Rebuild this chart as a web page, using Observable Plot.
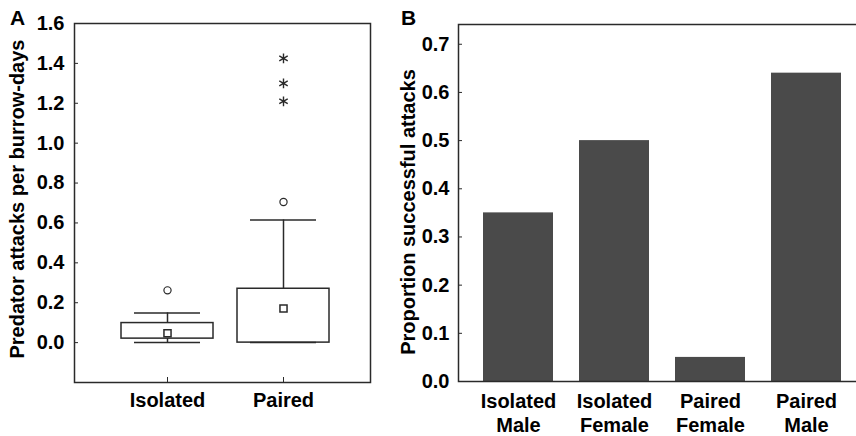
<!DOCTYPE html>
<html>
<head>
<meta charset="utf-8">
<script src="https://cdn.jsdelivr.net/npm/d3@7"></script>
<script src="https://cdn.jsdelivr.net/npm/@observablehq/plot@0.6"></script>
<style>
  html, body { margin: 0; padding: 0; background: #fff; overflow: hidden; }
  #wrap { position: relative; width: 856px; height: 436px; overflow: hidden; font-family: "Liberation Sans", Arial, sans-serif; }
  .panel { position: absolute; top: 0; }
  .panel svg { max-width: none !important; }
  .letter { position: absolute; font-weight: bold; font-size: 21px; line-height: 1; color: #000; z-index: 2; }
</style>
</head>
<body>
<div id="wrap">
  <div id="pa" class="panel" style="left:0px;width:395px"></div>
  <div id="pb" class="panel" style="left:390px;width:480px"></div>
  <div class="letter" style="left:10px;top:7px">A</div>
  <div class="letter" style="left:401px;top:7px">B</div>
</div>
<script>
// ---- Panel A: box plot data ----
const groupsA = ["Isolated", "Paired"];
const q1 = [0.02, 0.0];
const q3 = [0.098, 0.27];
const whiskerLo = [0.0, 0.0];
const whiskerHi = [0.149, 0.615];
const means = [0.047, 0.171];
const outlierGroup = ["Isolated", "Paired"];
const outlierValue = [0.262, 0.705];
const extremeGroup = ["Paired", "Paired", "Paired"];
const extremeValue = [1.425, 1.30, 1.21];
const yTicksA = [0, 0.2, 0.4, 0.6, 0.8, 1.0, 1.2, 1.4, 1.6];
const yTitleA = "Predator attacks per burrow-days";

// ---- Panel B: bar data ----
const categoriesB = ["Isolated\nMale", "Isolated\nFemale", "Paired\nFemale", "Paired\nMale"];
const proportions = [0.35, 0.50, 0.05, 0.64];
const yTicksB = [0, 0.1, 0.2, 0.3, 0.4, 0.5, 0.6, 0.7];
const yTitleB = "Proportion successful attacks";

const font = "'Liberation Sans', Arial, sans-serif";
const ink = "#2a2a2a";

const boxes = groupsA.map((g, i) => ({g, q1: q1[i], q3: q3[i], lo: whiskerLo[i], hi: whiskerHi[i], mean: means[i]}));
const outliers = outlierGroup.map((g, i) => ({g, v: outlierValue[i]}));
const extremes = extremeGroup.map((g, i) => ({g, v: extremeValue[i]}));

const chartA = Plot.plot({
  width: 395, height: 436,
  marginLeft: 74, marginRight: 25, marginTop: 23, marginBottom: 54,
  style: {fontFamily: font, fontSize: "20px", fontWeight: "bold", color: "#000", background: "transparent", maxWidth: "none"},
  x: {domain: groupsA, paddingInner: 0.21, paddingOuter: 0.3755, align: 0.53, label: null},
  y: {domain: [-0.2, 1.6], label: null},
  marks: [
    Plot.ruleX(boxes, {x: "g", y1: "q3", y2: "hi", stroke: ink, strokeWidth: 1.5}),
    Plot.ruleX(boxes, {x: "g", y1: "lo", y2: "q1", stroke: ink, strokeWidth: 1.5}),
    Plot.tickY(boxes, {x: "g", y: "hi", stroke: ink, strokeWidth: 1.5, insetLeft: 13, insetRight: 13}),
    Plot.tickY(boxes, {x: "g", y: "lo", stroke: ink, strokeWidth: 1.5, insetLeft: 13, insetRight: 13}),
    Plot.barY(boxes, {x: "g", y1: "q1", y2: "q3", fill: "none", stroke: ink, strokeWidth: 1.5}),
    Plot.dot(boxes, {x: "g", y: "mean", symbol: "square", r: 4, fill: "white", stroke: ink, strokeWidth: 1.5}),
    Plot.dot(outliers, {x: "g", y: "v", symbol: "circle", r: 3.6, fill: "white", stroke: ink, strokeWidth: 1.2}),
    Plot.dot(extremes, {x: "g", y: "v", symbol: "asterisk", r: 4.6, stroke: ink, strokeWidth: 1.4}),
    Plot.axisY({ticks: yTicksA, tickFormat: d3.format(".1f"), tickSize: -4, tickPadding: 14, stroke: ink, label: null, fontWeight: "bold"}),
    Plot.axisX({tickSize: -5, tickPadding: 15, stroke: ink, label: null, fontWeight: "bold"}),
    Plot.text([yTitleA], {text: d => d, frameAnchor: "left", textAnchor: "middle", rotate: -90, dx: -57, dy: -4, fontSize: 20, fontWeight: "bold", fill: "#000"}),
    Plot.frame({stroke: ink, strokeWidth: 1.5})
  ]
});
document.getElementById("pa").appendChild(chartA);

const barsB = categoriesB.map((c, i) => ({c, v: proportions[i]}));

const chartB = Plot.plot({
  width: 480, height: 436,
  marginLeft: 68, marginRight: 3, marginTop: 24, marginBottom: 55,
  style: {fontFamily: font, fontSize: "20px", fontWeight: "bold", color: "#000", background: "transparent", maxWidth: "none"},
  x: {domain: categoriesB, paddingInner: 0.267, paddingOuter: 0.2445, label: null},
  y: {domain: [0, 0.741], label: null},
  marks: [
    Plot.barY(barsB, {x: "c", y: "v", fill: "#4a4a4a"}),
    Plot.axisY({ticks: yTicksB, tickFormat: d3.format(".1f"), tickSize: -4, tickPadding: 13, stroke: ink, label: null, fontWeight: "bold"}),
    Plot.axisX({tickSize: 0, tickPadding: 10, label: null, lineHeight: 1.17, fontWeight: "bold"}),
    Plot.text([yTitleB], {text: d => d, frameAnchor: "left", textAnchor: "middle", rotate: -90, dx: -50, dy: 9, fontSize: 20, fontWeight: "bold", fill: "#000"}),
    Plot.frame({stroke: ink, strokeWidth: 1.5})
  ]
});
document.getElementById("pb").appendChild(chartB);
</script>
</body>
</html>
